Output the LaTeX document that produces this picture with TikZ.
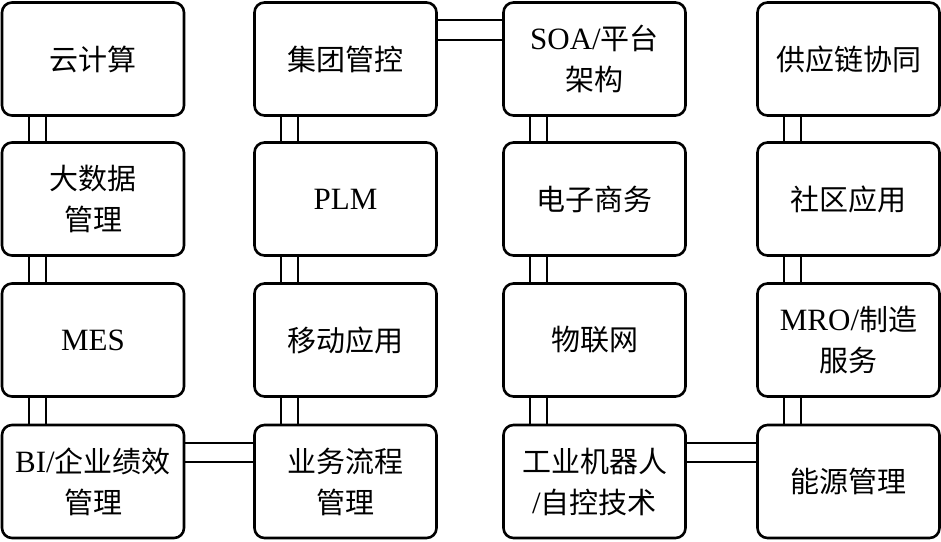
\documentclass[tikz,border=0pt]{standalone}
\usepackage{fontspec}
\setmainfont{Liberation Serif}
\newfontfamily\cjk{Noto Sans CJK SC}
\newcommand{\zh}[1]{{\cjk\fontsize{29}{41}\selectfont #1}}
\begin{document}
\begin{tikzpicture}[x=1pt,y=-1pt,
  box/.style={draw, line width=2.6pt, rounded corners=10pt, minimum width=182pt, minimum height=113pt,
    align=center, inner sep=0pt, font=\fontsize{31}{41}\selectfont},
  two/.style={text depth=12pt},
  link/.style={line width=2.4pt}]
\useasboundingbox (0,0) rectangle (941,541);
% column centres: 93, 345.5, 594.5, 848.5 ; row centres: 59, 199, 340, 481.5
\node[box] (a1) at (93,59) {\zh{云计算}};
\node[box] (a2) at (93,199) {\zh{大数据}\\\zh{管理}};
\node[box] (a3) at (93,340) {MES};
\node[box] (a4) at (93,481.5) {BI/\zh{企业绩效}\\\zh{管理}};
\node[box] (b1) at (345.5,59) {\zh{集团管控}};
\node[box] (b2) at (345.5,199) {PLM};
\node[box] (b3) at (345.5,340) {\zh{移动应用}};
\node[box] (b4) at (345.5,481.5) {\zh{业务流程}\\\zh{管理}};
\node[box] (c1) at (594.5,59) {SOA/\zh{平台}\\\zh{架构}};
\node[box] (c2) at (594.5,199) {\zh{电子商务}};
\node[box] (c3) at (594.5,340) {\zh{物联网}};
\node[box] (c4) at (594.5,481.5) {\zh{工业机器人}\\/\zh{自控技术}};
\node[box] (d1) at (848.5,59) {\zh{供应链协同}};
\node[box] (d2) at (848.5,199) {\zh{社区应用}};
\node[box] (d3) at (848.5,340) {MRO/\zh{制造}\\\zh{服务}};
\node[box] (d4) at (848.5,481.5) {\zh{能源管理}};
% vertical double links
\foreach \c in {a,b,c,d}{
  \foreach \r/\s in {1/2,2/3,3/4}{
    \draw[link] ([xshift=28pt]\c\r.south west) -- ([xshift=28pt]\c\s.north west);
    \draw[link] ([xshift=45pt]\c\r.south west) -- ([xshift=45pt]\c\s.north west);
  }
}
% horizontal double links
\draw[link] ([yshift=-19pt]b1.north east) -- ([yshift=-19pt]c1.north west);
\draw[link] ([yshift=-39pt]b1.north east) -- ([yshift=-39pt]c1.north west);
\draw[link] ([yshift=-19pt]a4.north east) -- ([yshift=-19pt]b4.north west);
\draw[link] ([yshift=-38pt]a4.north east) -- ([yshift=-38pt]b4.north west);
\draw[link] ([yshift=-19pt]c4.north east) -- ([yshift=-19pt]d4.north west);
\draw[link] ([yshift=-38pt]c4.north east) -- ([yshift=-38pt]d4.north west);
\end{tikzpicture}
\end{document}
